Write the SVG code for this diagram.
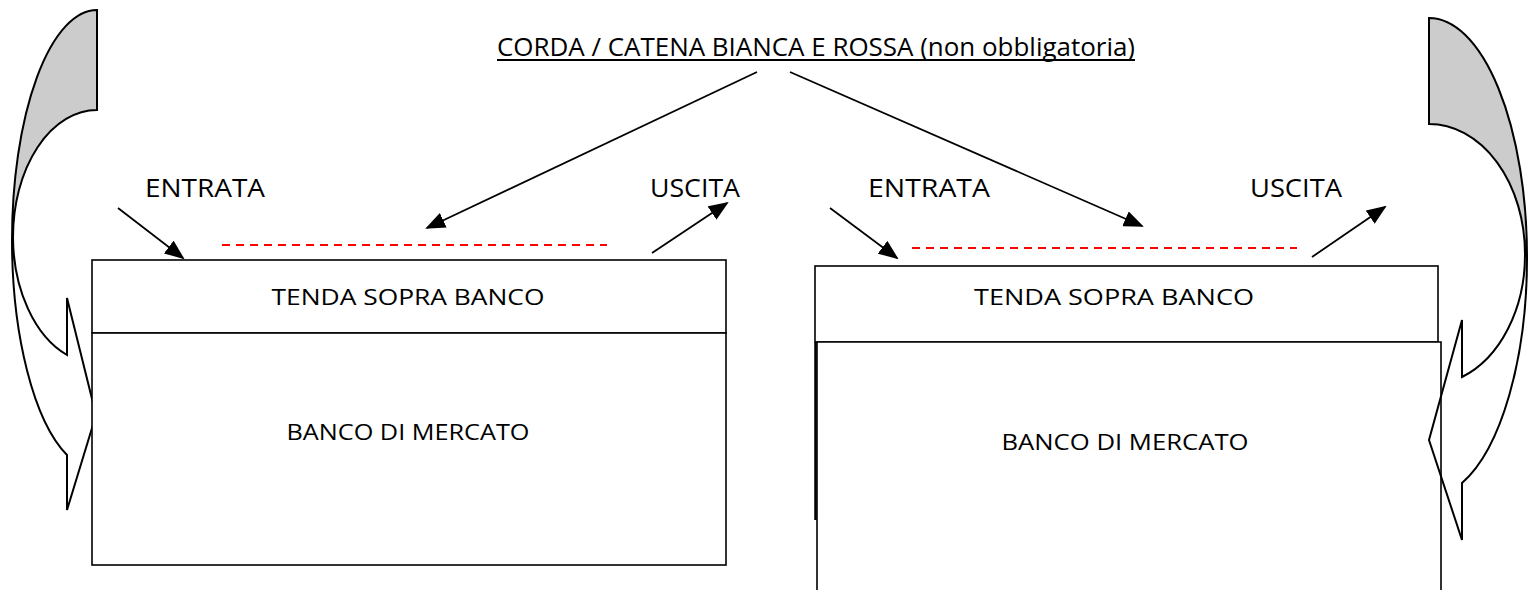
<svg xmlns="http://www.w3.org/2000/svg" width="1538" height="590" viewBox="0 0 1538 590">
<style>
text{font-family:"Open Sans","Liberation Sans",sans-serif;fill:#000}
.lbl{font-size:26px}
.box{fill:#fff;stroke:#000;stroke-width:1.6}
.conn{stroke:#000;stroke-width:1.8;fill:none}
.dash{stroke:#ff0000;stroke-width:2;stroke-dasharray:8,6;fill:none}
.back{fill:#cccccc;stroke:#000;stroke-width:2}
.front{fill:none;stroke:#000;stroke-width:2;stroke-linejoin:miter}
.in{font-size:21px}
</style>
<defs>
<marker id="ah" markerUnits="userSpaceOnUse" markerWidth="20" markerHeight="16" refX="18" refY="8" orient="auto">
<path d="M0,0 L20,8 L0,16 Z" fill="#000"/>
</marker>
</defs>
<rect width="1538" height="590" fill="#fff"/>

<g id="curved-arrow-left">
<path class="back" d="M97,10 A85,230 0 0 0 12,240 L13,237 A84,127 0 0 1 97,110 Z"/>
<path class="front" fill="#fff" d="M12,240 A85,230 0 0 0 67,455 L67,510 L96,415 L67,298 L67,355 A84,127 0 0 1 13,237"/>
</g>

<g id="stand-left">
<rect id="tenda-left" class="box" x="92" y="260" width="634" height="73"/>
<rect id="banco-left" class="box" x="92" y="333" width="634" height="232"/>
<text class="in" x="408" y="305" text-anchor="middle" textLength="273" lengthAdjust="spacingAndGlyphs">TENDA SOPRA BANCO</text>
<text class="in" x="408" y="440" text-anchor="middle" textLength="243" lengthAdjust="spacingAndGlyphs">BANCO DI MERCATO</text>
</g>

<g id="stand-right">
<rect id="tenda-right" class="box" x="815" y="266" width="623" height="76"/>
<path class="box" d="M817,590 L817,342 L1441,342 L1441,590"/>
<line x1="815.5" y1="342" x2="815.5" y2="520" stroke="#000" stroke-width="2.5"/>
<text class="in" x="1114" y="305" text-anchor="middle" textLength="280" lengthAdjust="spacingAndGlyphs">TENDA SOPRA BANCO</text>
<text class="in" x="1125" y="450" text-anchor="middle" textLength="247" lengthAdjust="spacingAndGlyphs">BANCO DI MERCATO</text>
</g>

<g id="curved-arrow-right">
<path class="back" d="M1429,18 A98,239 0 0 1 1527,257 L1525,254 A96,130 0 0 0 1429,124 Z"/>
<path class="front" d="M1527,257 A98,239 0 0 1 1462,483 L1462,540 L1429,440 L1462,320 L1462,377 A96,130 0 0 0 1525,254"/>
</g>

<g id="title">
<text class="lbl" x="816" y="56" text-anchor="middle" textLength="638" lengthAdjust="spacingAndGlyphs">CORDA / CATENA BIANCA E ROSSA (non obbligatoria)</text>
<line x1="497" y1="60" x2="1135" y2="60" stroke="#000" stroke-width="1.8"/>
</g>

<g id="labels">
<text class="lbl" x="145" y="197" textLength="120" lengthAdjust="spacingAndGlyphs">ENTRATA</text>
<text class="lbl" x="650" y="197" textLength="90" lengthAdjust="spacingAndGlyphs">USCITA</text>
<text class="lbl" x="868" y="197" textLength="122" lengthAdjust="spacingAndGlyphs">ENTRATA</text>
<text class="lbl" x="1250" y="197" textLength="92" lengthAdjust="spacingAndGlyphs">USCITA</text>
</g>

<g id="connectors">
<line class="conn" x1="757" y1="72" x2="427" y2="228" marker-end="url(#ah)"/>
<line class="conn" x1="790" y1="72" x2="1142" y2="226" marker-end="url(#ah)"/>
<line class="conn" x1="118" y1="208" x2="183" y2="258" marker-end="url(#ah)"/>
<line class="conn" x1="652" y1="253" x2="727" y2="203" marker-end="url(#ah)"/>
<line class="conn" x1="830" y1="208" x2="897" y2="258" marker-end="url(#ah)"/>
<line class="conn" x1="1312" y1="257" x2="1385" y2="207" marker-end="url(#ah)"/>
<line class="dash" x1="222" y1="245" x2="607" y2="245"/>
<line class="dash" x1="912" y1="248" x2="1297" y2="248"/>
</g>
</svg>
